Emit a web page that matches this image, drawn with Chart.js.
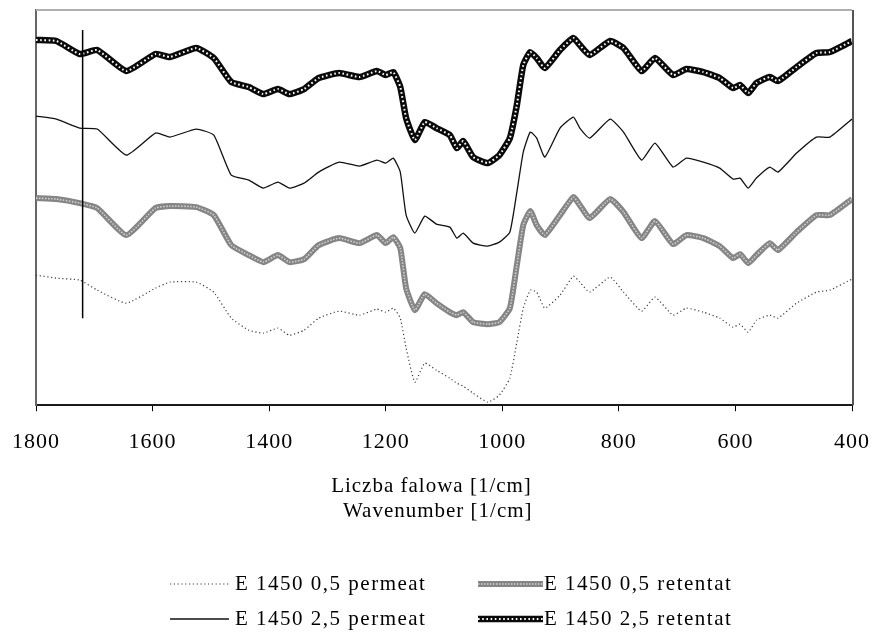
<!DOCTYPE html>
<html>
<head>
<meta charset="utf-8">
<title>FTIR spectra E 1450</title>
<script src="https://cdn.jsdelivr.net/npm/chart.js@4.4.1/dist/chart.umd.min.js"></script>
<style>
    html, body { margin: 0; padding: 0; background: #fff; }
    #chart-box { width: 872px; height: 633px; }
</style>
</head>
<body>
<div id="chart-box"><canvas id="spectra-chart"></canvas></div>
<script>
// Wavenumbers [1/cm] and readings of each spectrum (arbitrary absorbance units, offset traces)
const wavenumbers = [1800, 1765, 1725, 1695, 1645, 1595, 1570, 1525, 1495, 1465,
    1435, 1410, 1385, 1365, 1340, 1315, 1280, 1245, 1215, 1200,
    1187, 1175, 1165, 1150, 1133, 1113, 1090, 1078, 1067, 1050,
    1025, 1005, 987, 975, 964, 952, 941, 927, 901, 878,
    867, 850, 815, 792, 761, 738, 707, 684, 655, 627,
    604, 592, 578, 564, 541, 527, 495, 461, 438, 400];

const permeat05 = [1.30, 1.27, 1.25, 1.15, 1.02, 1.17, 1.23, 1.23, 1.13, 0.87,
    0.75, 0.72, 0.77, 0.70, 0.75, 0.87, 0.94, 0.90, 0.96, 0.93,
    0.97, 0.87, 0.57, 0.23, 0.42, 0.35, 0.27, 0.22, 0.19, 0.12,
    0.03, 0.10, 0.27, 0.63, 0.97, 1.15, 1.13, 0.97, 1.10, 1.29,
    1.23, 1.13, 1.28, 1.13, 0.94, 1.08, 0.90, 0.97, 0.93, 0.87,
    0.78, 0.81, 0.73, 0.85, 0.90, 0.87, 1.02, 1.13, 1.15, 1.26];

const retentat05 = [2.07, 2.06, 2.02, 1.97, 1.70, 1.97, 1.99, 1.98, 1.90, 1.60,
    1.50, 1.43, 1.50, 1.43, 1.46, 1.60, 1.67, 1.62, 1.70, 1.62,
    1.68, 1.57, 1.17, 0.95, 1.11, 1.02, 0.93, 0.90, 0.93, 0.83,
    0.81, 0.83, 0.97, 1.40, 1.80, 1.94, 1.80, 1.70, 1.90, 2.08,
    2.00, 1.87, 2.06, 1.93, 1.67, 1.84, 1.61, 1.70, 1.67, 1.59,
    1.47, 1.51, 1.42, 1.50, 1.62, 1.55, 1.73, 1.90, 1.90, 2.06];

const permeat25 = [2.89, 2.86, 2.77, 2.76, 2.50, 2.72, 2.68, 2.76, 2.70, 2.30,
    2.25, 2.17, 2.23, 2.17, 2.22, 2.33, 2.43, 2.39, 2.45, 2.42,
    2.47, 2.33, 1.90, 1.72, 1.89, 1.81, 1.78, 1.67, 1.72, 1.62,
    1.59, 1.63, 1.73, 2.13, 2.53, 2.73, 2.67, 2.48, 2.77, 2.88,
    2.77, 2.67, 2.86, 2.73, 2.45, 2.62, 2.38, 2.47, 2.43, 2.37,
    2.26, 2.27, 2.17, 2.27, 2.38, 2.33, 2.52, 2.68, 2.68, 2.86];

const retentat25 = [3.65, 3.64, 3.51, 3.55, 3.34, 3.51, 3.48, 3.57, 3.47, 3.23,
    3.18, 3.11, 3.16, 3.11, 3.16, 3.27, 3.32, 3.28, 3.34, 3.30,
    3.33, 3.18, 2.87, 2.65, 2.83, 2.77, 2.70, 2.57, 2.64, 2.48,
    2.42, 2.50, 2.67, 3.00, 3.40, 3.53, 3.47, 3.37, 3.55, 3.67,
    3.60, 3.50, 3.64, 3.57, 3.34, 3.47, 3.30, 3.36, 3.33, 3.27,
    3.17, 3.20, 3.12, 3.22, 3.28, 3.24, 3.38, 3.52, 3.53, 3.64];

// Vertical marker line
const markerWavenumber = 1720;
const markerRange = [0.87, 3.75];

const xTicks = [1800, 1600, 1400, 1200, 1000, 800, 600, 400];
const xTitle = ['Liczba falowa [1/cm]    ', 'Wavenumber [1/cm]  '];
const legendLabels = ['E 1450 0,5 permeat', 'E 1450 0,5 retentat', 'E 1450 2,5 permeat', 'E 1450 2,5 retentat'];

const serif = '"Liberation Serif", "Times New Roman", serif';

function toPoints(values) {
    return values.map((v, i) => ({x: wavenumbers[i], y: v}));
}

// Line styles: each style is a list of strokes drawn on top of each other
const styles = [
    [{color: '#3c3c3c', width: 1.2, dash: [1.2, 2.6]}],
    [{color: '#858585', width: 6, dash: []}, {color: '#d0d0d0', width: 1.6, dash: [1.5, 1.5]}],
    [{color: '#111111', width: 1.3, dash: []}],
    [{color: '#0a0a0a', width: 6.5, dash: []}, {color: '#ffffff', width: 2, dash: [1.6, 2.6]}]
];
const seriesValues = [permeat05, retentat05, permeat25, retentat25];

const datasets = [];
seriesValues.forEach((values, s) => {
    styles[s].forEach((stroke, k) => {
        datasets.push({
            label: legendLabels[s],
            data: toPoints(values),
            borderColor: stroke.color,
            borderWidth: stroke.width,
            borderDash: stroke.dash,
            pointRadius: 0,
            tension: 0.15,
            fill: false,
            // upper curves and overlays drawn last
            order: 20 - s * 2 - k
        });
    });
});
datasets.push({
    label: 'marker',
    data: [{x: markerWavenumber, y: markerRange[0]}, {x: markerWavenumber, y: markerRange[1]}],
    borderColor: '#000',
    borderWidth: 1.5,
    pointRadius: 0,
    order: 0
});

const framePlugin = {
    id: 'frameAndLegend',
    beforeDraw(chart) {
        // old bitmap serif in the original is set rather wide
        chart.ctx.letterSpacing = '1px';
    },
    afterDraw(chart) {
        const ctx = chart.ctx;
        const a = chart.chartArea;
        ctx.save();
        // top and right edges of the plot box
        ctx.lineWidth = 2;
        ctx.strokeStyle = '#b0b0b0';
        ctx.beginPath();
        ctx.moveTo(a.left, a.top);
        ctx.lineTo(a.right, a.top);
        ctx.stroke();
        ctx.strokeStyle = '#555';
        ctx.beginPath();
        ctx.moveTo(a.right + 1, a.top);
        ctx.lineTo(a.right + 1, a.bottom);
        ctx.stroke();

        // legend: two columns, two rows
        const cols = [{x0: 170, x1: 229, tx: 235}, {x0: 478, x1: 543, tx: 544}];
        const rows = [584, 619];
        ctx.font = '21px ' + serif;
        ctx.letterSpacing = '1.5px';
        ctx.fillStyle = '#000';
        ctx.textBaseline = 'middle';
        legendLabels.forEach((label, i) => {
            const c = cols[i % 2];
            const y = rows[Math.floor(i / 2)];
            styles[i].forEach(stroke => {
                ctx.lineWidth = stroke.width;
                ctx.strokeStyle = stroke.color;
                ctx.setLineDash(stroke.dash);
                ctx.beginPath();
                ctx.moveTo(c.x0, y);
                ctx.lineTo(c.x1, y);
                ctx.stroke();
            });
            ctx.setLineDash([]);
            ctx.fillText(label, c.tx, y);
        });
        ctx.restore();
    }
};

const ctx = document.getElementById('spectra-chart').getContext('2d');
const spectraChart = new Chart(ctx, {
    type: 'line',
    data: {datasets: datasets},
    options: {
        responsive: true,
        maintainAspectRatio: false,
        animation: false,
        layout: {
            padding: {left: 36, right: 20, top: 10, bottom: 105}
        },
        scales: {
            x: {
                type: 'linear',
                reverse: true,
                min: 400,
                max: 1800,
                afterBuildTicks: axis => {
                    axis.ticks = xTicks.map(v => ({value: v}));
                },
                afterFit: axis => {
                    axis.paddingLeft = 0;
                    axis.paddingRight = 0;
                },
                ticks: {
                    color: '#000',
                    padding: 18,
                    maxRotation: 0,
                    font: {family: serif, size: 22},
                    callback: value => String(value)
                },
                grid: {
                    display: true,
                    drawOnChartArea: false,
                    drawTicks: true,
                    tickLength: 6,
                    color: '#000'
                },
                border: {display: true, color: '#1a1a1a', width: 2},
                title: {
                    display: true,
                    text: xTitle,
                    color: '#000',
                    font: {family: serif, size: 21, lineHeight: 1.2},
                    padding: {top: 0, bottom: 4}
                }
            },
            y: {
                type: 'linear',
                min: 0,
                max: 3.95,
                ticks: {display: false},
                grid: {display: false, drawTicks: false},
                border: {display: true, color: '#666', width: 2}
            }
        },
        plugins: {
            legend: {display: false},
            tooltip: {enabled: false}
        }
    },
    plugins: [framePlugin]
});
</script>
</body>
</html>
